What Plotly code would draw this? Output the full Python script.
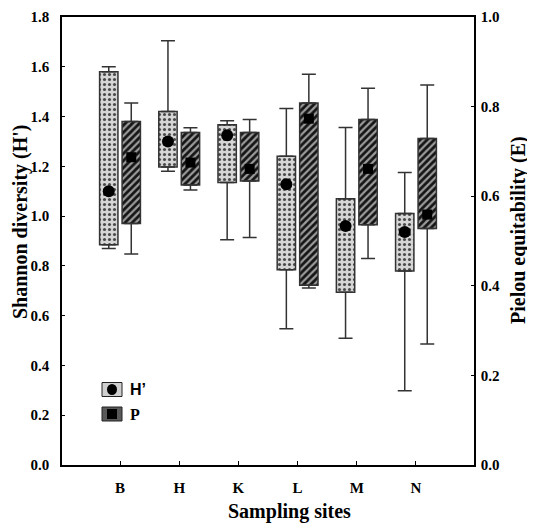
import plotly.graph_objects as go

sites = ["B", "H", "K", "L", "M", "N"]

# Shannon diversity H' (left axis)
h_low = [0.87, 1.18, 0.905, 0.547, 0.509, 0.298]
h_q1 = [0.885, 1.197, 1.135, 0.784, 0.694, 0.779]
h_mean = [1.10, 1.30, 1.325, 1.128, 0.96, 0.936]
h_q3 = [1.58, 1.42, 1.367, 1.241, 1.07, 1.01]
h_high = [1.60, 1.705, 1.383, 1.432, 1.356, 1.175]

# Pielou equitability P (right axis)
p_low = [0.471, 0.614, 0.508, 0.395, 0.461, 0.270]
p_q1 = [0.539, 0.625, 0.634, 0.401, 0.536, 0.528]
p_mean = [0.687, 0.675, 0.661, 0.773, 0.661, 0.559]
p_q3 = [0.767, 0.742, 0.742, 0.808, 0.771, 0.729]
p_high = [0.808, 0.753, 0.771, 0.872, 0.841, 0.848]

left_ticks = [0.0, 0.2, 0.4, 0.6, 0.8, 1.0, 1.2, 1.4, 1.6, 1.8]
right_ticks = [0.0, 0.2, 0.4, 0.6, 0.8, 1.0]

idx = list(range(len(sites)))
off = 0.19
bw = 0.31
xh = [i - off for i in idx]
xp = [i + off for i in idx]

LINE = "#333333"
SERIF = "Liberation Serif"

# page offset compensation (body margin of the html page)
PAGE = 8
W, H = 535 - PAGE, 531 - PAGE
PLOT_L, PLOT_R, PLOT_T, PLOT_B = 62, 474, 17, 465  # page pixels
ML = PLOT_L - PAGE
MR = W - (PLOT_R - PAGE)
MT = PLOT_T - PAGE
MB = H - (PLOT_B - PAGE)
PW = PLOT_R - PLOT_L
PH = PLOT_B - PLOT_T

fig = go.Figure()


def add_series(xs, low, q1, mean, q3, high, yaxis, pattern, symbol, msize):
    fig.add_trace(go.Bar(
        x=xs, y=[b - a for a, b in zip(q1, q3)], base=q1, width=bw,
        marker=dict(line=dict(color=LINE, width=1.5), pattern=pattern),
        yaxis=yaxis, showlegend=False, hoverinfo="skip"))
    eb = dict(color=LINE, thickness=1.5, width=7)
    fig.add_trace(go.Scatter(
        x=xs, y=q3, mode="markers", yaxis=yaxis, showlegend=False,
        marker=dict(size=1, color="rgba(0,0,0,0)"),
        error_y=dict(type="data", symmetric=False,
                     array=[h - q for h, q in zip(high, q3)],
                     arrayminus=[0] * len(xs), **eb)))
    fig.add_trace(go.Scatter(
        x=xs, y=q1, mode="markers", yaxis=yaxis, showlegend=False,
        marker=dict(size=1, color="rgba(0,0,0,0)"),
        error_y=dict(type="data", symmetric=False,
                     array=[0] * len(xs),
                     arrayminus=[q - l for q, l in zip(q1, low)], **eb)))
    fig.add_trace(go.Scatter(
        x=xs, y=mean, mode="markers", yaxis=yaxis, showlegend=False,
        marker=dict(symbol=symbol, size=msize, color="black")))


add_series(xh, h_low, h_q1, h_mean, h_q3, h_high, "y",
           dict(shape=".", fillmode="replace", bgcolor="#d6d6d6",
                fgcolor="#4a4a4a", size=5, solidity=0.3),
           "circle", 12)
add_series(xp, p_low, p_q1, p_mean, p_q3, p_high, "y2",
           dict(shape="/", fillmode="replace", bgcolor="#9c9c9c",
                fgcolor="#151515", size=5, solidity=0.55),
           "square", 10)

tickfont = dict(family=SERIF, size=15, color="black", weight="bold")
common = dict(showline=True, linecolor="black", linewidth=1.5,
              ticks="inside", tickcolor="black", showgrid=False,
              zeroline=False, tickfont=tickfont, automargin=False,
              ticklabeloverflow="allow")

fig.update_layout(
    width=W, height=H,
    margin=dict(l=ML, r=MR, t=MT, b=MB, pad=0, autoexpand=False),
    plot_bgcolor="white", paper_bgcolor="white",
    barmode="overlay",
    xaxis=dict(range=[-0.98, 5.98], tickvals=idx, ticktext=sites,
               mirror=True, ticklen=4, ticklabelstandoff=8, **common),
    yaxis=dict(range=[0, 1.8], tickvals=left_ticks, tickformat=".1f",
               ticklen=3, ticklabelstandoff=8, **common),
    yaxis2=dict(range=[0, 1.0], tickvals=right_ticks, tickformat=".1f",
                overlaying="y", side="right",
                ticklen=3, ticklabelstandoff=2, **common),
)


def px_x(px):
    return (px - PLOT_L) / PW


def px_y(py):
    return (PLOT_B - py) / PH


titlefont = dict(family=SERIF, size=20, color="black", weight="bold")
fig.add_annotation(text="Sampling sites", xref="paper", yref="paper",
                   x=px_x(289), y=px_y(512), showarrow=False, font=titlefont,
                   xanchor="center", yanchor="middle")
fig.add_annotation(text="Shannon diversity (H')", xref="paper", yref="paper",
                   x=px_x(20), y=px_y(222), showarrow=False, font=titlefont,
                   textangle=-90, xanchor="center", yanchor="middle")
fig.add_annotation(text="Pielou equitability (E)", xref="paper", yref="paper",
                   x=px_x(518), y=px_y(230), showarrow=False, font=titlefont,
                   textangle=-90, xanchor="center", yanchor="middle")

# manual legend
legend_items = [("H’", 389.5, "#cfcfcf", "circle", "Liberation Sans"),
                ("P", 414, "#5a5a5a", "rect", SERIF)]
for label, cy, fill, mark, fam in legend_items:
    fig.add_shape(type="rect", xref="paper", yref="paper",
                  xsizemode="pixel", ysizemode="pixel",
                  xanchor=px_x(112), yanchor=px_y(cy),
                  x0=-10, x1=10, y0=-7, y1=7,
                  fillcolor=fill, line=dict(color="#222222", width=1))
    fig.add_shape(type=mark, xref="paper", yref="paper",
                  xsizemode="pixel", ysizemode="pixel",
                  xanchor=px_x(112), yanchor=px_y(cy),
                  x0=-5, x1=5, y0=-5.5 if mark == "circle" else -5,
                  y1=5.5 if mark == "circle" else 5,
                  fillcolor="black", line=dict(color="black", width=0))
    fig.add_annotation(text=label, xref="paper", yref="paper",
                       x=px_x(128), y=px_y(cy), showarrow=False,
                       xanchor="left", yanchor="middle",
                       font=dict(family=fam, size=16, color="black",
                                 weight="bold"))

fig.write_html("out.html")
